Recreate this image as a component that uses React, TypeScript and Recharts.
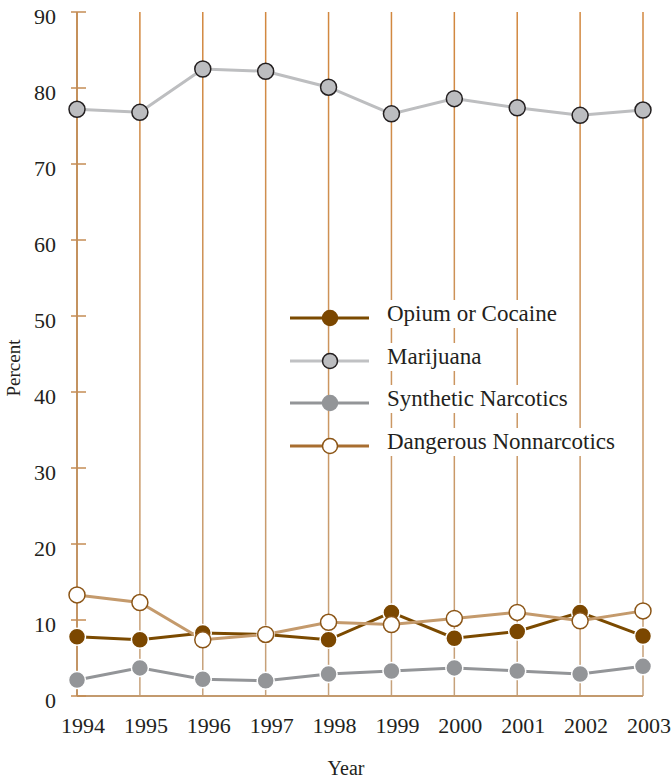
import React from "react";
import { LineChart, Line, XAxis, YAxis, CartesianGrid, Legend } from "recharts";

const years = ["1994", "1995", "1996", "1997", "1998", "1999", "2000", "2001", "2002", "2003"];
const opiumOrCocaine = [7.8, 7.4, 8.3, 8.1, 7.4, 11.0, 7.6, 8.5, 11.0, 7.9];
const marijuana = [77.2, 76.8, 82.5, 82.2, 80.1, 76.6, 78.6, 77.4, 76.4, 77.1];
const syntheticNarcotics = [2.1, 3.7, 2.2, 2.0, 2.9, 3.3, 3.7, 3.3, 2.9, 3.9];
const dangerousNonnarcotics = [13.3, 12.3, 7.4, 8.1, 9.7, 9.4, 10.2, 11.0, 9.9, 11.2];
const yTicks = [0, 10, 20, 30, 40, 50, 60, 70, 80, 90];
const legendOrder = ["Opium or Cocaine", "Marijuana", "Synthetic Narcotics", "Dangerous Nonnarcotics"];

const data = years.map((year, i) => ({
  year,
  opium: opiumOrCocaine[i],
  marijuana: marijuana[i],
  synthetic: syntheticNarcotics[i],
  dangerous: dangerousNonnarcotics[i],
}));

const serif = "'Liberation Serif', 'Times New Roman', serif";
const textColor = "#231f20";
const tan = "#c39a6e";

// legend look per series (the legend line for "dangerous" is darker than the data line)
const legendStyle: Record<string, { line: string; fill: string; stroke: string }> = {
  opium: { line: "#7b4a00", fill: "#7b4700", stroke: "#7b4700" },
  marijuana: { line: "#c0c1c3", fill: "#bcbdc0", stroke: "#231f20" },
  synthetic: { line: "#939598", fill: "#939598", stroke: "#939598" },
  dangerous: { line: "#a86e30", fill: "#ffffff", stroke: "#8b5516" },
};

function YTick(props: any) {
  const { x, y, payload } = props;
  return (
    <g>
      <line x1={x - 6} x2={x + 9} y1={y} y2={y} stroke="#c48c55" strokeWidth={1.5} />
      <text x={x - 21} y={y + 11.5} textAnchor="end" fontFamily={serif} fontSize={22} fill={textColor}>
        {payload.value}
      </text>
    </g>
  );
}

function XTick(props: any) {
  const { x, y, payload } = props;
  return (
    <text x={x + 6} y={y + 37} textAnchor="middle" fontFamily={serif} fontSize={22} fill={textColor}>
      {payload.value}
    </text>
  );
}

function PercentLabel(props: any) {
  const { viewBox } = props;
  const cx = viewBox.x + 20;
  const cy = viewBox.y + viewBox.height / 2 + 14;
  return (
    <text x={cx} y={cy} transform={`rotate(-90, ${cx}, ${cy})`} textAnchor="middle" fontFamily={serif} fontSize={19} fill={textColor}>
      Percent
    </text>
  );
}

function YearLabel(props: any) {
  const { viewBox } = props;
  const cx = viewBox.x + viewBox.width / 2 - 14;
  return (
    <text x={cx} y={viewBox.y + 79} textAnchor="middle" fontFamily={serif} fontSize={20} fill={textColor}>
      Year
    </text>
  );
}

function renderLegend(props: any) {
  const payload: any[] = props.payload || [];
  const items = legendOrder.map((name) => payload.find((p) => p.value === name)).filter(Boolean);
  return (
    <div>
      {items.map((item: any) => {
        const s = legendStyle[item.dataKey];
        return (
          <div key={item.value} style={{ display: "flex", alignItems: "center", height: 42.5 }}>
            <svg width={82} height={20} style={{ display: "block" }}>
              <line x1={2} x2={81} y1={10} y2={10} stroke={s.line} strokeWidth={3} />
              <circle cx={42} cy={10} r={7.5} fill={s.fill} stroke={s.stroke} strokeWidth={1.5} />
            </svg>
            <span
              style={{
                marginLeft: 17,
                position: "relative",
                top: -4,
                fontFamily: serif,
                fontSize: 23,
                color: textColor,
                background: "#fff",
                lineHeight: "28px",
                whiteSpace: "nowrap",
              }}
            >
              {item.value}
            </span>
          </div>
        );
      })}
    </div>
  );
}

export default function App() {
  return (
    <div style={{ position: "absolute", left: 0, top: 0, width: 672, height: 778, background: "#fff" }}>
      <LineChart width={672} height={778} data={data} margin={{ top: 12, right: 29, left: 0, bottom: 0 }}>
        <defs>
          <linearGradient id="gridTan" gradientUnits="userSpaceOnUse" x1="0" y1="12" x2="0" y2="696">
            <stop offset="0%" stopColor="#d2873e" />
            <stop offset="100%" stopColor="#c6a27c" />
          </linearGradient>
        </defs>
        <CartesianGrid horizontal={false} stroke="url(#gridTan)" strokeWidth={1.5} />
        <XAxis
          dataKey="year"
          interval={0}
          tickLine={false}
          tickSize={0}
          tickMargin={0}
          height={82}
          axisLine={{ stroke: tan, strokeWidth: 2 }}
          tick={(p: any) => <XTick {...p} />}
          label={<YearLabel />}
        />
        <YAxis
          type="number"
          domain={[0, 90]}
          ticks={yTicks}
          interval={0}
          width={77}
          tickLine={false}
          tickSize={0}
          tickMargin={0}
          axisLine={{ stroke: "#bd8a55", strokeWidth: 1.5 }}
          tick={(p: any) => <YTick {...p} />}
          label={<PercentLabel />}
        />
        <Legend
          layout="vertical"
          align="center"
          verticalAlign="middle"
          wrapperStyle={{ left: 288, top: 297, width: 340 }}
          content={renderLegend}
        />
        <Line
          name="Marijuana"
          dataKey="marijuana"
          stroke="#bdbec0"
          strokeWidth={3}
          dot={{ r: 8, fill: "#bcbdc0", stroke: "#231f20", strokeWidth: 1.5 }}
          isAnimationActive={false}
        />
        <Line
          name="Synthetic Narcotics"
          dataKey="synthetic"
          stroke="#939598"
          strokeWidth={3}
          dot={{ r: 8.5, fill: "#939598", stroke: "#ffffff", strokeWidth: 1.5 }}
          isAnimationActive={false}
        />
        <Line
          name="Opium or Cocaine"
          dataKey="opium"
          stroke="#7b4a00"
          strokeWidth={3}
          dot={{ r: 8.5, fill: "#7b4700", stroke: "#ffffff", strokeWidth: 1.5 }}
          isAnimationActive={false}
        />
        <Line
          name="Dangerous Nonnarcotics"
          dataKey="dangerous"
          stroke="#c49a6c"
          strokeWidth={3}
          dot={{ r: 8, fill: "#ffffff", stroke: "#8b5516", strokeWidth: 1.5 }}
          isAnimationActive={false}
        />
      </LineChart>
    </div>
  );
}
